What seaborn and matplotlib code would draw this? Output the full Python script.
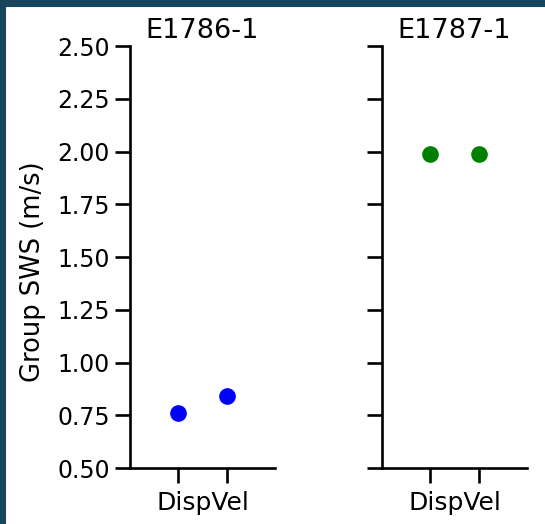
import matplotlib
matplotlib.use("Agg")
import matplotlib.pyplot as plt
import matplotlib.patches as mpatches
import seaborn as sns
import pandas as pd

# ---- data ----
experiments = ["E1786-1", "E1787-1"]
measures = ["m1", "m2"]
sws_e1786 = [0.76, 0.84]
sws_e1787 = [1.99, 1.99]
point_colors = ["blue", "green"]
method_label = "DispVel"
y_label = "Group SWS (m/s)"
y_ticks = [0.50, 0.75, 1.00, 1.25, 1.50, 1.75, 2.00, 2.25, 2.50]

sns.set_theme(style="ticks", context="talk")
plt.rcParams["font.family"] = ["DejaVu Sans"]
plt.rcParams.update({
    "text.color": "black", "axes.labelcolor": "black",
    "xtick.color": "black", "ytick.color": "black",
    "axes.edgecolor": "black",
})

W, H = 545, 524
fig = plt.figure(figsize=(W / 100, H / 100), dpi=100)

# dark frame on top and left
border = "#17465c"
fig.patches.append(mpatches.Rectangle((0, 1 - 6 / H), 1, 6 / H, transform=fig.transFigure,
                                      color=border, zorder=-1))
fig.patches.append(mpatches.Rectangle((0, 0), 5 / W, 1, transform=fig.transFigure,
                                      color=border, zorder=-1))

bottom = 1 - 468 / H
height = (468 - 46) / H
ax1 = fig.add_axes([130 / W, bottom, 145 / W, height])
ax2 = fig.add_axes([382 / W, bottom, 145 / W, height], sharey=ax1)

values = [sws_e1786, sws_e1787]
for ax, exp, vals, col in zip([ax1, ax2], experiments, values, point_colors):
    df = pd.DataFrame({"measure": measures, "sws": vals})
    sns.stripplot(data=df, x="measure", y="sws", ax=ax, color=col, size=12,
                  jitter=False, linewidth=0)
    ax.set_xlim(-1, 2)
    ax.set_xticks([0, 1])
    ax.set_xticklabels(["", ""])
    ax.set_xlabel(method_label, fontsize=18, labelpad=2)
    ax.set_title(exp, fontsize=19.5, pad=6)
    ax.tick_params(axis="both", length=11, width=1.9, labelsize=17, colors="black")
    for s in ["left", "bottom"]:
        ax.spines[s].set_linewidth(1.9)
        ax.spines[s].set_color("black")
    sns.despine(ax=ax)

ax1.set_ylim(0.5, 2.5)
ax1.set_yticks(y_ticks)
ax1.set_yticklabels([f"{t:.2f}" for t in y_ticks])
ax1.set_ylabel(y_label, fontsize=18.5, labelpad=8)
ax1.yaxis.label.set_y(0.465)
ax2.set_ylabel("")
ax2.tick_params(axis="y", labelleft=False)

fig.savefig("out.png", dpi=100, facecolor="white")
